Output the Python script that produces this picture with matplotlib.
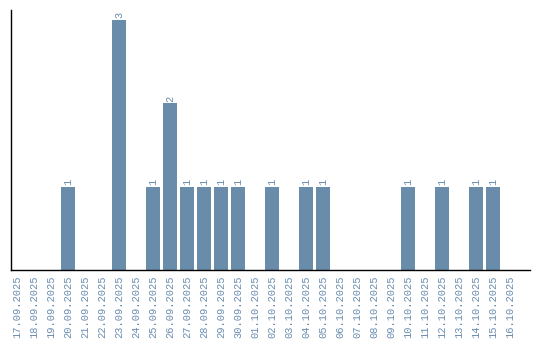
import matplotlib
matplotlib.use("Agg")
import matplotlib.pyplot as plt

dates = ["17.09.2025", "18.09.2025", "19.09.2025", "20.09.2025", "21.09.2025",
         "22.09.2025", "23.09.2025", "24.09.2025", "25.09.2025", "26.09.2025",
         "27.09.2025", "28.09.2025", "29.09.2025", "30.09.2025", "01.10.2025",
         "02.10.2025", "03.10.2025", "04.10.2025", "05.10.2025", "06.10.2025",
         "07.10.2025", "08.10.2025", "09.10.2025", "10.10.2025", "11.10.2025",
         "12.10.2025", "13.10.2025", "14.10.2025", "15.10.2025", "16.10.2025"]
counts = [0, 0, 0, 1, 0, 0, 3, 0, 1, 2,
          1, 1, 1, 1, 0, 1, 0, 1, 1, 0,
          0, 0, 0, 1, 0, 1, 0, 1, 1, 0]

bar_color = "#6a8cab"
text_color = "#6a8caf"
mono = ["Liberation Mono", "DejaVu Sans Mono"]

fig = plt.figure(figsize=(5.4, 3.4), dpi=100)
ax = fig.add_axes([11/540, 70/340, 519/540, 260/340])
x = list(range(len(dates)))
bars = ax.bar(x, counts, width=0.82, color=bar_color)
for xi, v in zip(x, counts):
    if v > 0:
        ax.text(xi, v + 0.02, str(v), rotation=90, ha="center", va="bottom",
                fontsize=7.5, family=mono, color=text_color)

ax.set_xlim(-0.35, 29 + 20/17)
ax.set_ylim(0, 3.12)
ax.set_xticks(x)
ax.set_xticklabels(dates, rotation=90, fontsize=7.5, family=mono,
                   color=text_color)
ax.tick_params(axis="x", length=0, pad=4)
ax.set_yticks([])
for s in ["top", "right"]:
    ax.spines[s].set_visible(False)
for s in ["left", "bottom"]:
    ax.spines[s].set_color("black")
    ax.spines[s].set_linewidth(1)

fig.savefig("out.png", dpi=100)
